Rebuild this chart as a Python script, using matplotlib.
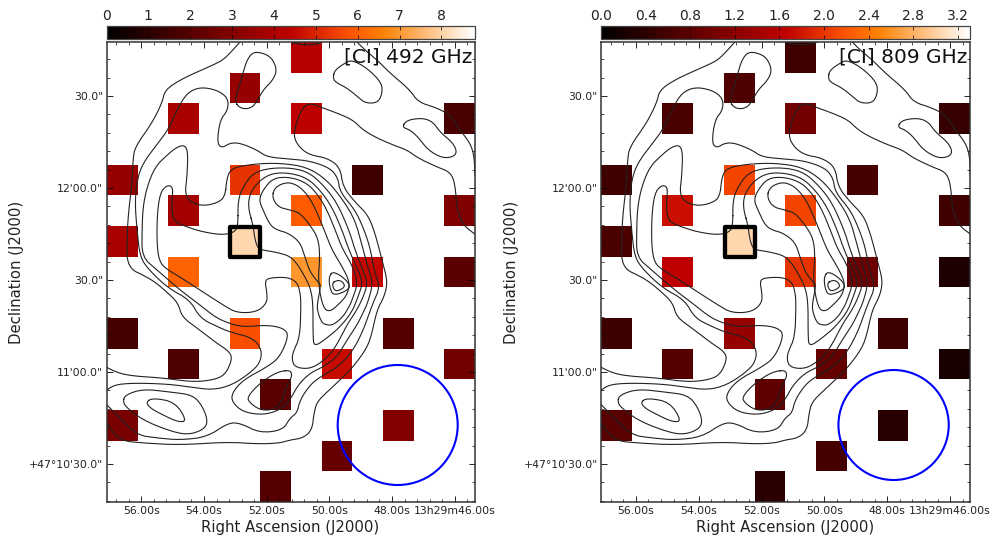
import matplotlib
matplotlib.use('Agg')
import matplotlib.pyplot as plt
import numpy as np
from matplotlib.patches import Circle, Rectangle

# map cells, column / row of the 12x15 grid (row 0 at the top)
cell_cols = [6, 4, 2, 6, 11, 0, 4, 8, 2, 6, 11, 0, 4, 2, 6, 8, 11, 0, 4, 9, 2, 7, 11, 5, 0, 9, 7, 5]
cell_rows = [0, 1, 2, 2, 2, 4, 4, 4, 5, 5, 5, 6, 6, 7, 7, 7, 7, 9, 9, 9, 10, 10, 10, 11, 12, 12, 13, 14]
ci_492 = [4.25, 3.45, 3.9, 4.35, 1.7, 3.45, 5.3, 1.5, 3.8, 5.95, 2.9, 3.9, 8.1, 6.1, 7.0, 4.5, 2.1,
          1.6, 5.7, 1.95, 1.85, 4.6, 2.65, 2.05, 2.8, 3.0, 2.4, 1.95]
ci_809 = [0.56, 0.69, 0.65, 1.0, 0.48, 0.56, 2.1, 0.6, 1.75, 2.1, 0.56, 0.65, 3.05, 1.65, 2.0, 0.95, 0.26,
          0.52, 1.3, 0.52, 0.73, 0.87, 0.22, 0.82, 0.78, 0.35, 0.6, 0.39]

ra_ticks = [56, 54, 52, 50, 48, 46]
ra_labels = ['56.00s', '54.00s', '52.00s', '50.00s', '48.00s', '13h29m46.00s']
dec_ticks = [120, 90, 60, 30, 0]  # arcsec above 47d10m30s
dec_labels = ['30.0"', '12\'00.0"', '30.0"', '11\'00.0"', '+47\u00b010\'30.0"']

# traced contours, in map pixels
top_arc = [(293, 43), (305, 45), (318, 44), (322, 42)]
north_loop = [(235, 102), (240, 108), (248, 109), (255, 105), (263, 90), (273, 80), (277, 70), (272, 58),
              (263, 53), (253, 52), (247, 60), (243, 73), (238, 90), (235, 102)]
ne_loop = [(333, 77), (335, 70), (345, 63), (352, 60), (367, 68), (382, 83), (382, 95), (377, 103),
           (365, 103), (358, 97), (347, 88), (335, 82), (333, 77)]
ne_line = [(357, 42), (365, 50), (377, 60), (390, 73), (410, 90), (418, 102), (437, 108), (450, 115),
           (460, 130), (470, 143), (474, 155), (475, 175)]
east_loop = [(402, 127), (407, 120), (423, 118), (433, 122), (440, 132), (453, 143), (457, 152), (453, 157),
             (442, 158), (428, 150), (418, 137), (410, 130), (402, 127)]
west_line = [(240, 42), (232, 51), (223, 60), (213, 65), (197, 72), (180, 80), (165, 90), (162, 103),
             (152, 123), (135, 147), (133, 160), (132, 183), (128, 217), (127, 243), (127, 260), (132, 270),
             (143, 275), (155, 282), (168, 293), (178, 303), (182, 317), (197, 328), (215, 342), (230, 352),
             (232, 360), (225, 375), (213, 380), (193, 382), (163, 378), (133, 376), (118, 373), (104, 366)]
c1 = [(476, 235), (463, 225), (457, 210), (455, 183), (450, 172), (437, 167), (418, 158), (407, 150),
      (393, 145), (377, 138), (363, 130), (353, 120), (337, 113), (320, 107), (310, 103), (302, 108),
      (295, 127), (294, 138), (300, 148), (310, 155), (327, 158), (340, 167), (343, 187), (355, 202),
      (368, 215), (375, 233), (382, 260), (386, 275), (387, 285), (384, 297), (377, 310), (372, 333),
      (367, 348), (353, 367), (340, 380), (327, 392), (317, 402), (314, 413), (312, 430), (303, 438),
      (290, 440), (280, 443), (260, 444), (227, 442), (180, 445), (143, 443), (123, 441), (113, 433), (104, 418)]
c2 = [(104, 393), (113, 385), (133, 383), (167, 384), (190, 387), (213, 390), (232, 385), (250, 373),
      (260, 363), (262, 350), (253, 338), (230, 332), (218, 327), (200, 318), (190, 300), (168, 288),
      (149, 270), (140, 257), (137, 230), (135, 203), (137, 180), (143, 163), (158, 143), (168, 130),
      (178, 108), (187, 93), (200, 87), (217, 90), (228, 98), (228, 110), (220, 120), (217, 143),
      (222, 148), (230, 143), (240, 143), (257, 150), (267, 157), (290, 159), (310, 161), (330, 168),
      (338, 178), (340, 192), (355, 210), (363, 227), (370, 247), (374, 270), (380, 287), (373, 303),
      (368, 317), (362, 333), (352, 352), (338, 367), (320, 377), (310, 385), (300, 400), (297, 413),
      (290, 418), (283, 430), (260, 433), (240, 423), (228, 423), (207, 437), (180, 440), (157, 438),
      (137, 435), (120, 418), (104, 402)]
c3 = [(225, 197), (227, 177), (232, 168), (253, 164), (280, 163), (307, 167), (327, 180), (343, 200),
      (355, 220), (362, 245), (368, 268), (373, 283), (368, 302), (363, 313), (357, 325), (347, 340),
      (337, 357), (323, 367), (310, 373), (298, 385), (290, 400), (280, 410), (263, 415), (243, 412),
      (232, 402), (232, 393), (243, 380), (267, 367), (280, 357), (289, 335), (283, 328), (267, 325),
      (243, 327), (228, 323), (215, 317), (200, 305), (180, 290), (157, 270), (142, 257), (142, 230),
      (143, 207), (147, 187), (155, 167), (167, 155), (177, 147), (185, 145), (188, 153), (187, 177),
      (185, 193), (190, 202), (203, 206), (217, 203), (225, 197)]
c4 = [(238, 225), (238, 200), (243, 187), (253, 173), (270, 168), (293, 168), (310, 173), (325, 187),
      (337, 203), (349, 230), (355, 250), (362, 268), (368, 283), (362, 300), (355, 313), (348, 323),
      (333, 352), (318, 365), (307, 369), (295, 367), (292, 360), (293, 352), (300, 337), (301, 303),
      (300, 292), (297, 282), (287, 277), (268, 278), (265, 282), (267, 293), (267, 303), (257, 312),
      (237, 313), (223, 305), (200, 290), (180, 277), (168, 270), (160, 263), (157, 247), (157, 217),
      (160, 193), (167, 185), (173, 187), (172, 200), (172, 213), (175, 222), (187, 227), (203, 232),
      (223, 235), (235, 232), (238, 225)]
c5 = [(253, 225), (248, 207), (250, 193), (260, 180), (273, 173), (290, 173), (307, 178), (320, 190),
      (332, 207), (342, 230), (349, 250), (357, 268), (363, 282), (358, 297), (352, 312), (340, 327),
      (327, 338), (314, 347), (313, 335), (313, 302), (310, 287), (305, 277), (298, 265), (290, 256),
      (275, 252), (262, 250), (258, 248), (255, 240), (253, 225)]
c6 = [(259, 200), (263, 190), (273, 178), (290, 177), (307, 183), (318, 195), (327, 210), (336, 232),
      (342, 248), (352, 265), (358, 283), (352, 300), (350, 305), (343, 317), (333, 325), (327, 325),
      (322, 323), (318, 313), (317, 305), (321, 285), (318, 282), (310, 272), (305, 257), (300, 242),
      (288, 233), (277, 230), (270, 225), (263, 210), (259, 200)]
c7 = [(272, 197), (275, 187), (287, 182), (297, 185), (305, 192), (312, 202), (318, 215), (325, 232),
      (332, 250), (343, 268), (350, 283), (347, 295), (340, 303), (330, 312), (323, 308), (318, 282),
      (320, 255), (318, 238), (310, 225), (300, 213), (290, 210), (278, 207), (272, 197)]
peak_outer = [(330, 275), (333, 272), (340, 275), (348, 282), (350, 288), (342, 293), (333, 295), (330, 288),
              (329, 280), (330, 275)]
peak_inner = [(332, 283), (338, 280), (343, 282), (345, 287), (338, 291), (334, 290), (332, 283)]
south_loop = [(290, 370), (277, 372), (260, 383), (247, 397), (250, 403), (260, 410), (273, 410), (282, 402),
              (285, 390), (290, 380), (292, 375), (290, 370)]
sw_outer = [(123, 402), (125, 395), (143, 389), (170, 392), (193, 395), (203, 407), (208, 422), (203, 430),
            (187, 435), (167, 430), (143, 420), (127, 408), (123, 402)]
sw_inner = [(146, 402), (153, 398), (175, 402), (187, 421), (178, 422), (163, 415), (150, 408), (146, 402)]
contours = [top_arc, north_loop, ne_loop, ne_line, east_loop, west_line, c1, c2, c3, c4, c5, c6, c7,
            peak_outer, peak_inner, south_loop, sw_outer, sw_inner]


def smooth(points, passes=2):
    # corner cutting so the traced lines do not look polygonal
    pts = np.array(points, dtype=float)
    closed = points[0] == points[-1]
    for _ in range(passes):
        a = pts[:-1]
        b = pts[1:]
        q = 0.75 * a + 0.25 * b
        r = 0.25 * a + 0.75 * b
        new = np.empty((len(q) * 2, 2))
        new[0::2] = q
        new[1::2] = r
        if closed:
            pts = np.vstack([new, new[0]])
        else:
            pts = np.vstack([pts[0], new, pts[-1]])
    return pts


def ra_to_x(s):
    return 141.3 + (56 - np.asarray(s, dtype=float)) * 31.34


def dec_to_y(d):
    return 464 - np.asarray(d, dtype=float) * 92 / 30


def draw_panel(fig, left, width, values, vmax, bar_ticks, bar_fmt, title, circle_x, circle_r):
    ax = fig.add_axes([left / 992, 34 / 536, width / 992, 460 / 536])
    grid = np.full((15, 12), np.nan)
    grid[cell_rows, cell_cols] = values
    im = ax.imshow(grid, cmap='gist_heat', vmin=0, vmax=vmax, interpolation='nearest', aspect='auto',
                   extent=[106.5, 474.5, 502, 42])

    for c in contours:
        xy = smooth(c)
        ax.plot(xy[:, 0], xy[:, 1], color='#222222', lw=0.8, solid_joinstyle='round')

    ax.add_patch(Rectangle((230, 226.5), 30, 30, fill=False, edgecolor='black', lw=3.1, joinstyle='round', zorder=5))
    ax.add_patch(Circle((circle_x, 425), circle_r, fill=False, edgecolor='blue', lw=1.5, zorder=5))
    ax.text(472, 57, title, ha='right', va='center', fontsize=14.5, color='#111111', zorder=6)

    ax.set_xlim(106.5, 474.5)
    ax.set_ylim(502, 42)
    ax.set_xticks(ra_to_x(ra_ticks))
    ax.set_xticklabels(ra_labels, fontsize=7.8, color='#222222')
    ax.set_yticks(dec_to_y(dec_ticks))
    ax.set_yticklabels(dec_labels, fontsize=7.8, color='#222222')
    minor_ra = np.arange(45.6, 57.2, 0.4)
    minor_dec = np.arange(-12, 138, 6)
    ax.set_xticks(ra_to_x(minor_ra[(ra_to_x(minor_ra) > 106.5) & (ra_to_x(minor_ra) < 474.5)]), minor=True)
    ax.set_yticks(dec_to_y(minor_dec[(dec_to_y(minor_dec) > 42) & (dec_to_y(minor_dec) < 502)]), minor=True)
    ax.tick_params(which='major', direction='in', top=True, right=True, length=4.5, width=0.6)
    ax.tick_params(axis='x', which='major', pad=3)
    ax.tick_params(axis='y', which='major', pad=2.5)
    ax.tick_params(which='minor', direction='in', top=True, right=True, length=2.2, width=0.5)
    ax.set_xlabel('Right Ascension (J2000)', fontsize=10.7, color='#222222')
    ax.set_ylabel('Declination (J2000)', fontsize=10.7, color='#222222')
    ax.xaxis.set_label_coords(0.5, -0.0565)
    ax.xaxis.label.set_va('center')
    ax.yaxis.set_label_coords((17 - 106.5) / width, 0.5)
    ax.yaxis.label.set_va('center')
    for s in ax.spines.values():
        s.set_linewidth(1.1)
        s.set_color('#333333')

    cax = fig.add_axes([left / 992, (536 - 39) / 536, width / 992, 13 / 536])
    cb = fig.colorbar(im, cax=cax, orientation='horizontal')
    cb.set_ticks(bar_ticks)
    cb.set_ticklabels([bar_fmt % t for t in bar_ticks])
    cax.xaxis.set_ticks_position('top')
    cax.tick_params(which='major', direction='in', top=True, bottom=True, length=3, width=0.5, pad=2.5,
                    labelsize=10, labelcolor='#222222')
    cb.outline.set_linewidth(0.9)
    cb.outline.set_edgecolor('#444444')


fig = plt.figure(figsize=(9.92, 5.36), dpi=100)
draw_panel(fig, 106.5, 368, ci_492, 8.79, [0, 1, 2, 3, 4, 5, 6, 7, 8], '%d', '[CI] 492 GHz', 397.7, 60)
draw_panel(fig, 601, 369, ci_809, 3.31, [0, 0.4, 0.8, 1.2, 1.6, 2.0, 2.4, 2.8, 3.2], '%.1f', '[CI] 809 GHz', 398.3, 55)
fig.savefig('out.png', dpi=100)
